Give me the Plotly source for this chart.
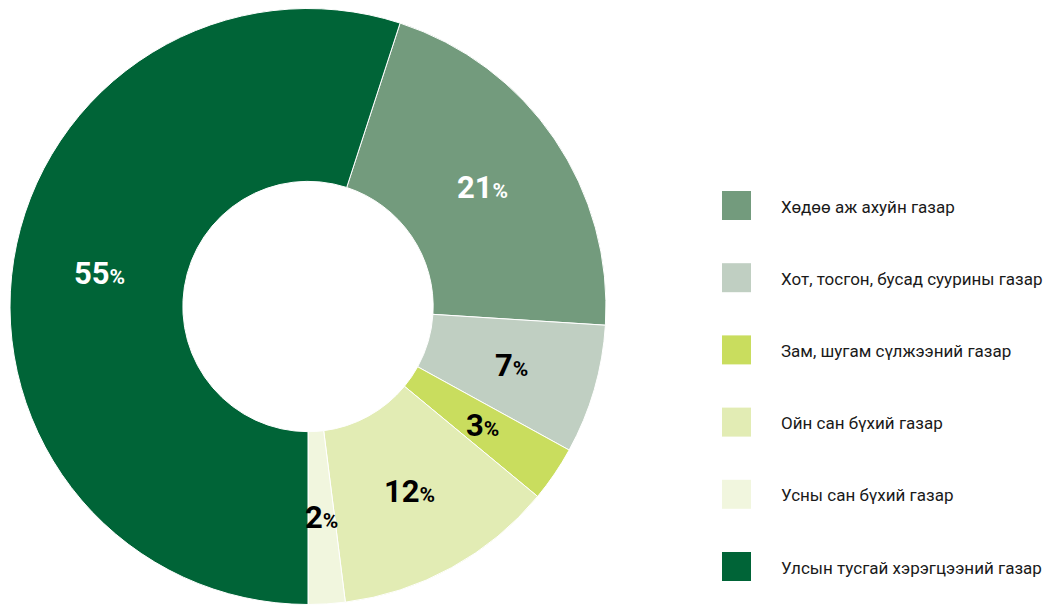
import math
import plotly.graph_objects as go

categories = [
    "Хөдөө аж ахуйн газар",
    "Хот, тосгон, бусад суурины газар",
    "Зам, шугам сүлжээний газар",
    "Ойн сан бүхий газар",
    "Усны сан бүхий газар",
    "Улсын тусгай хэрэгцээний газар",
]
values = [21, 7, 3, 12, 2, 55]
colors = ["#739b7d", "#c0cfc2", "#c9dd5e", "#e2ecb4", "#f1f6de", "#006437"]
label_colors = ["white", "black", "black", "black", "black", "white"]

FONT = "Roboto, 'Noto Sans', sans-serif"
W, H = 1057, 606
OFF = 8  # page body margin offset

# pie geometry (figure pixels)
PIE_X0, PIE_X1 = 10 - OFF, 606 - OFF
PIE_TOP, PIE_BOT = 8 - OFF, 605 - OFF
ROT = 18
HOLE = 0.42

fig = go.Figure()
fig.add_trace(go.Pie(
    labels=categories,
    values=values,
    textinfo="none",
    hole=HOLE,
    sort=False,
    direction="clockwise",
    rotation=ROT,
    marker=dict(colors=colors, line=dict(color="white", width=1)),
    domain=dict(x=[PIE_X0 / W, PIE_X1 / W], y=[1 - PIE_BOT / H, 1 - PIE_TOP / H]),
    showlegend=False,
    hoverinfo="label+percent",
))

# percentage labels positioned at the mid-angle of each slice, mid-ring radius
cx = (PIE_X0 + PIE_X1) / 2
cy = (PIE_TOP + PIE_BOT) / 2
R = min(PIE_X1 - PIE_X0, PIE_BOT - PIE_TOP) / 2
r_lab = R * (1 + HOLE) / 2
total = sum(values)
annotations = []
cum = 0
for v, tc in zip(values, label_colors):
    mid = ROT + (cum + v / 2) / total * 360
    cum += v
    a = math.radians(mid)
    px = cx + r_lab * math.sin(a)
    py = cy - r_lab * math.cos(a)
    annotations.append(dict(
        xref="paper", yref="paper", x=px / W, y=1 - py / H,
        text=f"<b>{v}</b><span style='font-size:21px'><b>%</b></span>",
        showarrow=False, xanchor="center", yanchor="middle",
        font=dict(family=FONT, size=31, color=tc)))

# custom legend built from the category list
sq = 29
x0 = 722 - OFF
top = 205.5 - OFF
step = 72.2
shapes = []
for i, (cat, col) in enumerate(zip(categories, colors)):
    ry = top + i * step
    shapes.append(dict(type="rect", xref="paper", yref="paper",
                       x0=x0 / W, x1=(x0 + sq) / W,
                       y0=1 - (ry + sq / 2) / H, y1=1 - (ry - sq / 2) / H,
                       fillcolor=col, line=dict(width=0)))
    annotations.append(dict(xref="paper", yref="paper", x=(779 - OFF) / W, y=1 - (ry + 1) / H,
                            text=cat, showarrow=False, xanchor="left", yanchor="middle",
                            font=dict(family=FONT, size=17, color="#1a1a1a")))

fig.update_layout(
    width=W, height=H,
    margin=dict(l=0, r=0, t=0, b=0),
    paper_bgcolor="white",
    plot_bgcolor="white",
    shapes=shapes,
    annotations=annotations,
)

fig.write_html("out.html")
